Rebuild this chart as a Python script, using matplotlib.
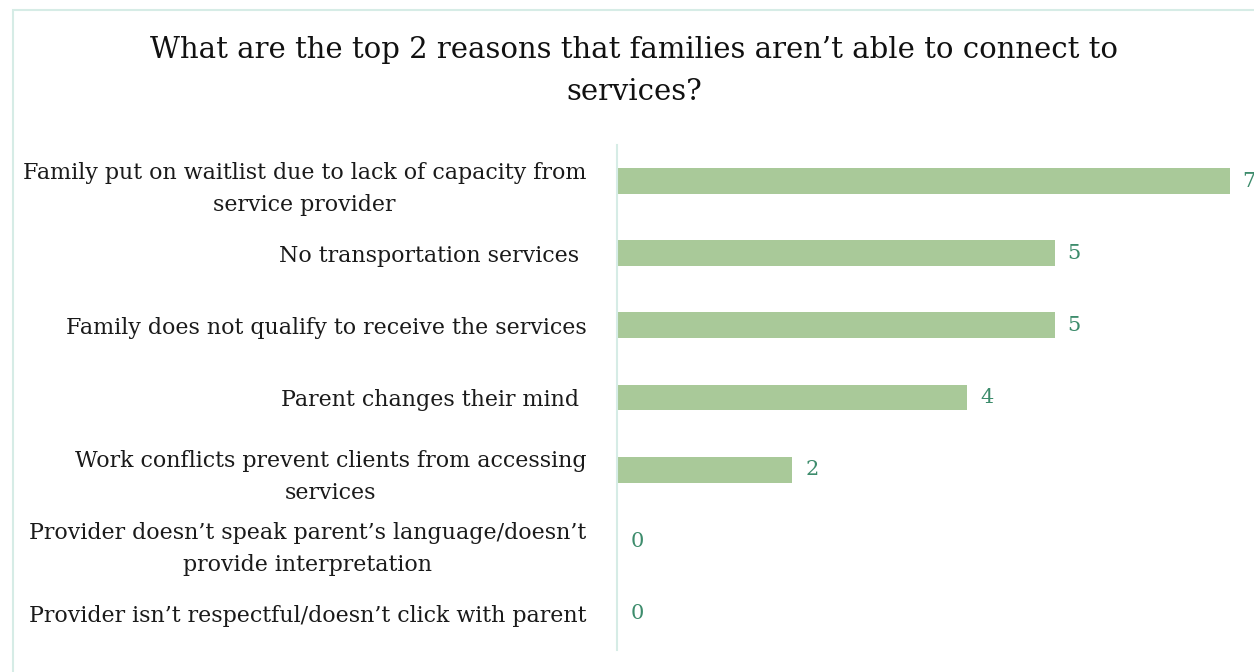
import matplotlib
matplotlib.use("Agg")
import matplotlib.pyplot as plt
from matplotlib.patches import Rectangle

categories = [
    "Family put on waitlist due to lack of capacity from\nservice provider",
    "No transportation services ",
    "Family does not qualify to receive the services",
    "Parent changes their mind ",
    "Work conflicts prevent clients from accessing\nservices",
    "Provider doesn\u2019t speak parent\u2019s language/doesn\u2019t\nprovide interpretation",
    "Provider isn\u2019t respectful/doesn\u2019t click with parent",
]
counts = [7, 5, 5, 4, 2, 0, 0]
title = "What are the top 2 reasons that families aren\u2019t able to connect to\nservices?"

BAR_COLOR = "#a9c999"
VALUE_COLOR = "#3d8c6c"
LINE_COLOR = "#d6ece6"
FONT = "DejaVu Serif"

W, H = 1254, 672
fig = plt.figure(figsize=(W / 100, H / 100), dpi=100)
fig.patch.set_facecolor("white")

# light outer frame
fig.patches.append(Rectangle((13 / W, -0.05), 1.2, 1 - 10 / H + 0.05,
                             transform=fig.transFigure, fill=False,
                             edgecolor=LINE_COLOR, linewidth=1.5))

left, right = 617 / W, 1240 / W
top, bottom = 1 - 145 / H, 1 - 650 / H
ax = fig.add_axes([left, bottom, right - left, top - bottom])

ypos = list(range(len(categories)))
ax.barh(ypos, counts, height=0.36, color=BAR_COLOR)
ax.set_ylim(len(categories) - 0.5, -0.5)
ax.set_xlim(0, (1240 - 617) / 87.5)

ax.set_yticks(ypos)
ax.set_yticklabels(categories, fontsize=15.9, family=FONT, color="#1a1a1a",
                   multialignment="center", linespacing=1.6)
ax.tick_params(axis="y", length=0, pad=22)
ax.set_xticks([])

for s in ["top", "right", "bottom"]:
    ax.spines[s].set_visible(False)
ax.spines["left"].set_color(LINE_COLOR)
ax.spines["left"].set_linewidth(1.5)

for y, v in zip(ypos, counts):
    ax.annotate(str(v), xy=(v, y), xytext=(9.5, 0), textcoords="offset points",
                va="center", ha="left", fontsize=15, family=FONT,
                color=VALUE_COLOR)

fig.text(634 / W, 1 - 71 / H, title, ha="center", va="center",
         fontsize=21, family=FONT, color="#111111", linespacing=1.62)

fig.savefig("out.png", dpi=100)
